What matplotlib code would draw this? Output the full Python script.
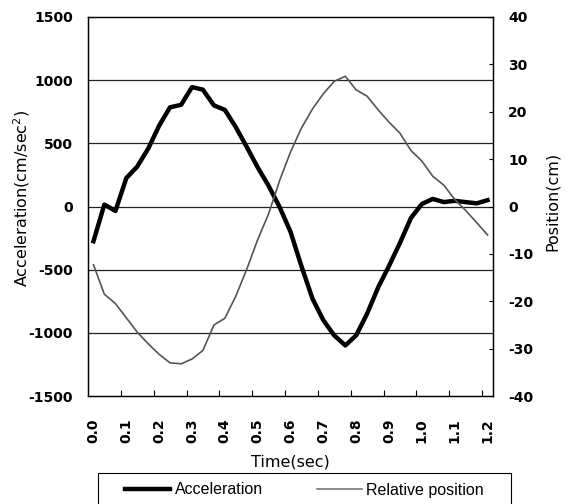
import matplotlib
matplotlib.use("Agg")
import matplotlib.pyplot as plt
from matplotlib.lines import Line2D
from matplotlib.patches import Rectangle

plt.rcParams['font.family'] = ['DejaVu Sans']

# time (sec), sampled at 30 frames per second
time = [0.000, 0.033, 0.067, 0.100, 0.133, 0.167, 0.200, 0.233, 0.267, 0.300,
        0.333, 0.367, 0.400, 0.433, 0.467, 0.500, 0.533, 0.567, 0.600, 0.633,
        0.667, 0.700, 0.733, 0.767, 0.800, 0.833, 0.867, 0.900, 0.933, 0.967,
        1.000, 1.033, 1.067, 1.100, 1.133, 1.167, 1.200]

acceleration = [-275, 15, -35, 225, 315, 460, 640, 785, 805, 945,
                925, 800, 765, 630, 470, 310, 165, -5, -200, -470,
                -730, -900, -1020, -1100, -1020, -850, -640, -470, -290, -90,
                20, 60, 35, 45, 35, 25, 50]

position = [-12.3, -18.5, -20.5, -23.5, -26.5, -29.0, -31.2, -33.0, -33.2, -32.2,
            -30.4, -25.0, -23.6, -19.0, -13.2, -7.0, -1.6, 5.5, 11.5, 16.5,
            20.6, 23.8, 26.4, 27.5, 24.6, 23.3, 20.4, 17.8, 15.5, 11.8,
            9.6, 6.4, 4.5, 1.5, -0.8, -3.4, -6.0]

xtick_vals = [0.0, 0.1, 0.2, 0.3, 0.4, 0.5, 0.6, 0.7, 0.8, 0.9, 1.0, 1.1, 1.2]
xtick_labels = ['0.0', '0.1', '0.2', '0.3', '0.4', '0.5', '0.6', '0.7', '0.8',
                '0.9', '1.0', '1.1', '1.2']
left_ticks = [-1500, -1000, -500, 0, 500, 1000, 1500]
right_ticks = [-40, -30, -20, -10, 0, 10, 20, 30, 40]

W, H = 568, 504
fig = plt.figure(figsize=(W/100, H/100), dpi=100)
ax = fig.add_axes([88/W, 1 - 396/H, (493-88)/W, (396-17)/H])
ax2 = ax.twinx()

half = 1/60
ax.set_xlim(-half, 1.2 + half)
ax.set_ylim(-1500, 1500)
ax2.set_ylim(-40, 40)

for y in left_ticks[1:-1]:
    ax.axhline(y, color='#222222', lw=0.9, zorder=1)

ax.plot(time, acceleration, color='black', lw=3.2, solid_joinstyle='round', zorder=3)
ax2.plot(time, position, color='#555555', lw=1.2, zorder=3)

tickfont = dict(fontsize=10, fontweight='bold')
ax.set_xticks(xtick_vals)
ax.set_xticklabels(xtick_labels, rotation=90, **tickfont)
ax.set_xticks([v - half for v in xtick_vals[1:]], minor=True)
ax.tick_params(axis='x', which='major', length=0, pad=16)
ax.tick_params(axis='x', which='minor', direction='in', length=4, width=0.8)
ax.set_yticks(left_ticks)
ax.set_yticklabels([str(v) for v in left_ticks], **tickfont)
ax.tick_params(axis='y', length=0, pad=11)
ax2.set_yticks(right_ticks)
ax2.set_yticklabels([str(v) for v in right_ticks], **tickfont)
ax2.tick_params(axis='y', direction='in', length=3, width=0.8, pad=11)

for a in (ax, ax2):
    for s in a.spines.values():
        s.set_linewidth(0.9)
        s.set_color('black')

ax.set_xlabel('Time(sec)', fontsize=11.5, labelpad=8)
ax.set_ylabel('Acceleration(cm/sec$^2$)', fontsize=11.5)
ax.yaxis.set_label_coords((32-88)/405, (396-198)/379)
ax2.set_ylabel('Position(cm)', fontsize=11.5)
ax2.yaxis.set_label_coords((545-88)/405, (396-201)/379)

handles = [Line2D([], [], color='black', lw=3.2),
           Line2D([], [], color='#777777', lw=1.2)]
leg = fig.legend(handles, ['Acceleration', 'Relative position'],
                 loc='center left', bbox_to_anchor=(125/W, 14/H),
                 ncol=2, frameon=False, borderpad=0, borderaxespad=0,
                 prop={'family': 'Liberation Sans', 'size': 11.5},
                 handlelength=2.8, handletextpad=0.3, columnspacing=3.4)
fig.patches.append(Rectangle((98/W, -6/H), 413/W, 37/H, transform=fig.transFigure,
                             fill=False, edgecolor='black', lw=0.8))

fig.savefig('out.png', dpi=100)
